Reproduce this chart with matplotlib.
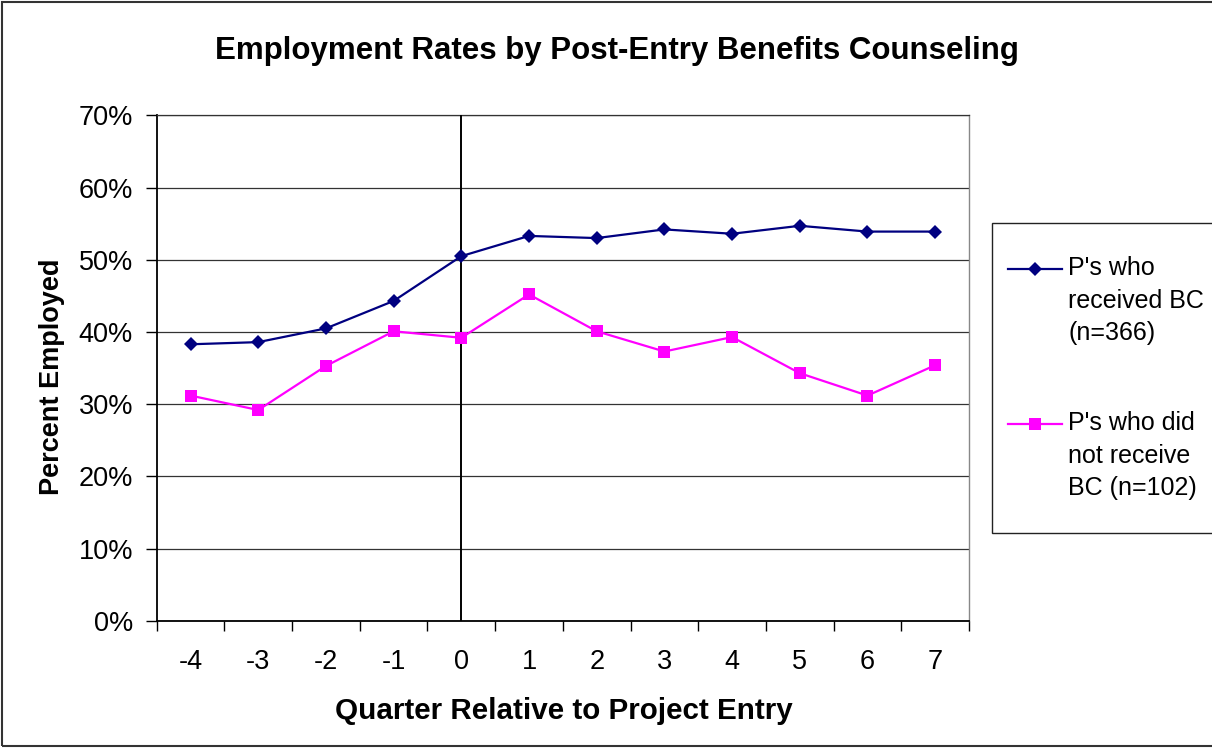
import matplotlib.pyplot as plt
from matplotlib.patches import Rectangle
from matplotlib.lines import Line2D
from matplotlib.ticker import FixedLocator, PercentFormatter

plt.rcParams['font.family'] = ['Liberation Sans', 'DejaVu Sans']

# data
quarters = [-4, -3, -2, -1, 0, 1, 2, 3, 4, 5, 6, 7]
received_bc = [38.3, 38.6, 40.5, 44.3, 50.5, 53.3, 53.0, 54.2, 53.6, 54.7, 53.9, 53.9]
no_bc = [31.2, 29.2, 35.3, 40.1, 39.2, 45.2, 40.1, 37.3, 39.3, 34.3, 31.2, 35.4]
label_bc = "P's who\nreceived BC\n(n=366)"
label_no = "P's who did\nnot receive\nBC (n=102)"

navy = '#000080'
magenta = '#FF00FF'

fig = plt.figure(figsize=(12.12, 7.48), dpi=100)
ax = fig.add_axes([0.1293, 0.1698, 0.6702, 0.6761])

x = list(range(len(quarters)))
ax.plot(x, received_bc, color=navy, lw=1.6, marker='D', ms=7.5, mew=0, zorder=4)
ax.plot(x, no_bc, color=magenta, lw=1.6, marker='s', ms=8.5, mew=0, zorder=4)

# vertical line at entry quarter
ax.axvline(quarters.index(0), color='black', lw=1.4, zorder=3)

ax.set_xlim(-0.5, len(quarters) - 0.5)
ax.set_ylim(0, 70)
ax.yaxis.set_major_locator(FixedLocator(range(0, 71, 10)))
ax.yaxis.set_major_formatter(PercentFormatter(decimals=0))
ax.set_xticks(x)
ax.set_xticklabels([str(q) for q in quarters])
ax.xaxis.set_minor_locator(FixedLocator([i - 0.5 for i in range(len(quarters) + 1)]))

ax.tick_params(axis='x', which='major', length=0, pad=20, labelsize=19.5)
ax.tick_params(axis='x', which='minor', length=7, width=1, direction='out')
ax.tick_params(axis='y', length=8, width=1, direction='out', pad=9, labelsize=19.5)

ax.grid(axis='y', color='#333333', lw=0.9)
ax.set_axisbelow(True)
for side in ['left', 'bottom']:
    ax.spines[side].set_color('black')
    ax.spines[side].set_linewidth(1.3)
ax.spines['top'].set_color('#333333')
ax.spines['top'].set_linewidth(0.9)
ax.spines['right'].set_color('#888888')
ax.spines['right'].set_linewidth(1)

fig.text(0.509, 1 - 51 / 748, 'Employment Rates by Post-Entry Benefits Counseling',
         ha='center', va='center', fontsize=22.5, fontweight='bold')
fig.text(0.465, 1 - 711 / 748, 'Quarter Relative to Project Entry',
         ha='center', va='center', fontsize=21.3, fontweight='bold')
fig.text(52 / 1212, 1 - 377 / 748, 'Percent Employed', rotation=90,
         ha='center', va='center', fontsize=19.5, fontweight='bold')

# legend drawn by hand so the handles sit on the first text line
fig.add_artist(Rectangle((992 / 1212, 1 - 533 / 748), 0.3, 310 / 748,
                         transform=fig.transFigure, facecolor='white',
                         edgecolor='#222222', lw=1))
entries = [(label_bc, navy, 'D', 7.5, 269), (label_no, magenta, 's', 8.5, 424)]
for text, color, marker, ms, ypx in entries:
    yf = 1 - ypx / 748
    fig.add_artist(Line2D([1008 / 1212, 1062 / 1212], [yf, yf], transform=fig.transFigure,
                          color=color, lw=1.6))
    fig.add_artist(Line2D([1035 / 1212], [yf], transform=fig.transFigure,
                          color=color, marker=marker, ms=ms, mew=0))
    fig.text(1068 / 1212, yf + 13 / 748, text, ha='left', va='top',
             fontsize=18, linespacing=1.45)

# outer chart border
fig.add_artist(Rectangle((2 / 1212, 2 / 748), 1.2, 1 - 4 / 748,
                         transform=fig.transFigure, fill=False,
                         edgecolor='#333333', lw=1.5))

fig.savefig('out.png', dpi=100)
